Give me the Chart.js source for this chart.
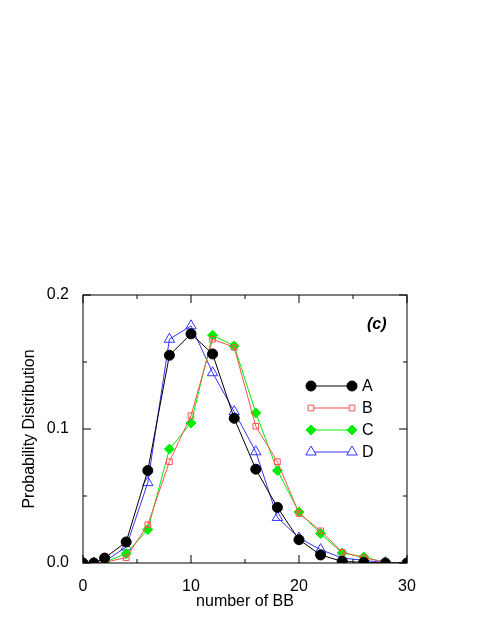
<!DOCTYPE html>
<html>
<head>
<script src="https://cdn.jsdelivr.net/npm/chart.js@4"></script>
<style>html,body{margin:0;background:#fff}canvas{display:block}</style>
</head>
<body>
<canvas id="c" width="491" height="635"></canvas>
<script>
const xs = [0, 1, 2, 4, 6, 8, 10, 12, 14, 16, 18, 20, 22, 24, 26, 28, 30];
const seriesA = [0, 0, 0.0037, 0.0157, 0.069, 0.155, 0.171, 0.156, 0.108, 0.07, 0.0415, 0.0174, 0.006, 0.0012, 0.0005, 0, 0];
const seriesB = [0, 0, 0.0005, 0.004, 0.0286, 0.0756, 0.11, 0.167, 0.161, 0.102, 0.0756, 0.037, 0.024, 0.008, 0.004, 0.0005, 0];
const seriesC = [0, 0, 0.0005, 0.007, 0.025, 0.085, 0.1045, 0.17, 0.162, 0.112, 0.069, 0.038, 0.022, 0.0075, 0.0045, 0.0005, 0];
const seriesD = [0, 0, 0.001, 0.012, 0.06, 0.167, 0.177, 0.142, 0.113, 0.083, 0.034, 0.0187, 0.01, 0.0037, 0.002, 0.0003, 0];
const labels = ['A', 'B', 'C', 'D'];
const xTicks = [0, 10, 20, 30];
const yTicks = [0, 0.1, 0.2];

const FONT = 'Liberation Sans, Arial, sans-serif';
const styles = [
    { color: '#000', pointStyle: 'circle', radius: 5, fill: '#000' },
    { color: '#ff5050', pointStyle: 'rect', radius: 4, fill: '#fff' },
    { color: '#00ee00', pointStyle: 'rectRot', radius: 5, fill: '#00ee00' },
    { color: '#3333ff', pointStyle: 'triangle', radius: 6, fill: '#fff' }
];
const all = [seriesA, seriesB, seriesC, seriesD];

const datasets = all.map((s, i) => ({
    label: labels[i],
    data: s.map((v, j) => ({ x: xs[j], y: v })),
    borderColor: styles[i].color,
    borderWidth: 1,
    pointStyle: styles[i].pointStyle,
    pointRadius: styles[i].radius,
    pointBackgroundColor: styles[i].fill === '#fff' ? 'rgba(0,0,0,0)' : styles[i].fill,
    pointBorderColor: styles[i].color,
    pointBorderWidth: 1
}));

// frame, inward ticks, legend and panel label
const decor = {
    id: 'decor',
    afterDraw(chart) {
        const { ctx, chartArea: a, scales: { x, y } } = chart;
        ctx.save();
        ctx.strokeStyle = '#000';
        ctx.lineWidth = 1;
        ctx.strokeRect(a.left, a.top, a.right - a.left, a.bottom - a.top);
        ctx.beginPath();
        for (let v = 0; v <= 30; v += 5) {
            const px = x.getPixelForValue(v), len = v % 10 === 0 ? 8 : 4;
            ctx.moveTo(px, a.bottom); ctx.lineTo(px, a.bottom - len);
            ctx.moveTo(px, a.top); ctx.lineTo(px, a.top + len);
        }
        for (let v = 0; v <= 0.2001; v += 0.05) {
            const py = y.getPixelForValue(v), len = Math.round(v * 100) % 10 === 0 ? 8 : 4;
            ctx.moveTo(a.left, py); ctx.lineTo(a.left + len, py);
            ctx.moveTo(a.right, py); ctx.lineTo(a.right - len, py);
        }
        ctx.stroke();

        ctx.font = 'bold italic 16px ' + FONT;
        ctx.fillStyle = '#000';
        ctx.textAlign = 'left';
        ctx.textBaseline = 'middle';
        ctx.fillText('(c)', 367, 325);

        labels.forEach((lab, i) => {
            const ly = 386 + i * 22, x1 = 311, x2 = 352, st = styles[i];
            ctx.strokeStyle = st.color;
            ctx.beginPath(); ctx.moveTo(x1, ly); ctx.lineTo(x2, ly); ctx.stroke();
            [x1, x2].forEach(px => {
                ctx.fillStyle = st.fill;
                ctx.strokeStyle = st.color;
                Chart.helpers.drawPoint(ctx, { pointStyle: st.pointStyle, radius: st.radius, borderWidth: 1 }, px, ly);
            });
            ctx.fillStyle = '#000';
            ctx.font = '16px ' + FONT;
            ctx.fillText(lab, 362, ly + 1);
        });
        ctx.restore();
    }
};

new Chart(document.getElementById('c'), {
    type: 'line',
    data: { datasets },
    options: {
        responsive: false,
        animation: false,
        events: [],
        layout: { padding: { left: 18, right: 84, top: 295, bottom: 24 } },
        plugins: { legend: { display: false }, tooltip: { enabled: false } },
        scales: {
            x: {
                type: 'linear', min: 0, max: 30,
                afterBuildTicks: s => { s.ticks = xTicks.map(v => ({ value: v })); },
                afterFit: s => { s.height = 48; },
                grid: { display: false },
                border: { display: false },
                ticks: { color: '#000', font: { family: FONT, size: 16 }, padding: 6, maxRotation: 0 },
                title: { display: true, text: 'number of BB', color: '#000', font: { family: FONT, size: 16 }, padding: 0 }
            },
            y: {
                min: 0, max: 0.2,
                afterBuildTicks: s => { s.ticks = yTicks.map(v => ({ value: v })); },
                afterFit: s => { s.width = 65; },
                grid: { display: false },
                border: { display: false },
                ticks: { color: '#000', font: { family: FONT, size: 16 }, padding: 6, callback: v => v.toFixed(1) },
                title: { display: true, text: 'Probability Distribution', color: '#000', font: { family: FONT, size: 16 }, padding: 2 }
            }
        }
    },
    plugins: [decor]
});
</script>
</body>
</html>
